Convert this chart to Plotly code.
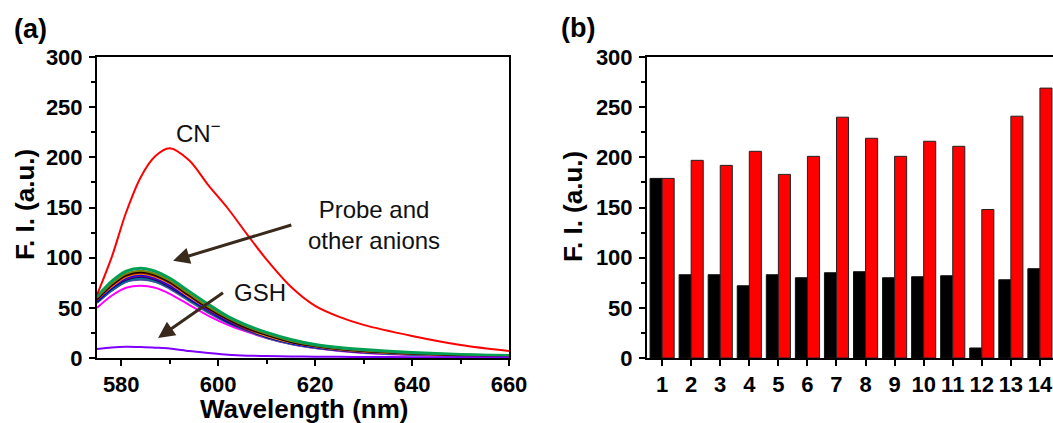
import plotly.graph_objects as go

# ---------------- data ----------------
wavelength = [575, 578, 581, 584, 587, 590, 594, 598, 602, 606, 610, 615, 620, 625, 630, 640, 650, 660]

cn_curve = [63, 100, 145, 180, 201, 209, 197, 172, 149, 123, 98, 71, 52, 41, 33, 22, 13, 7]
gsh_curve = [9, 10.5, 11.3, 11, 10.3, 9.5, 7, 5, 3.2, 2.3, 2, 1.6, 1.3, 1.2, 1, 0.8, 0.6, 0.5]

other_names = ["magenta", "slate", "royal", "darkcyan", "navy", "purple", "blue",
               "orange", "wine", "black", "olive", "green2", "green1"]
other_colors = ["#FF00FF", "#555599", "#3050A0", "#008080", "#000080", "#800080", "#0000FF",
                "#FF8000", "#800000", "#000000", "#808000", "#009966", "#00A050"]
other_curves = [
    [50, 62, 70, 72, 70, 64, 53, 42, 33, 26, 20, 14, 10, 7, 5, 3, 2, 1.5],
    [55, 67, 76, 78, 76, 69, 57, 45, 35, 27, 20, 14, 10, 7.5, 5.5, 3.5, 2.5, 1.5],
    [55, 67, 76, 79, 76, 70, 58, 46, 35, 27, 21, 14.5, 10.5, 7.5, 5.5, 3.5, 2.5, 1.5],
    [56, 68, 77, 80, 77, 71, 58, 46, 36, 28, 21, 14.5, 10.5, 8, 6, 3.5, 2.5, 1.5],
    [56, 69, 78, 81, 78, 71, 59, 47, 36, 28, 21, 15, 11, 8, 6, 4, 2.5, 2],
    [57, 70, 79, 82, 79, 72, 60, 47, 37, 28, 22, 15, 11, 8, 6, 4, 2.5, 2],
    [57, 70, 80, 83, 80, 73, 60, 48, 37, 29, 22, 15, 11, 8.5, 6.5, 4, 3, 2],
    [58, 71, 81, 84, 81, 74, 61, 49, 38, 29, 22, 15.5, 11.5, 8.5, 6.5, 4, 3, 2],
    [58, 72, 82, 85, 82, 75, 62, 49, 38, 29, 23, 16, 12, 9, 7, 4.5, 3, 2],
    [59, 73, 83, 86, 83, 76, 63, 50, 39, 30, 23, 16, 12, 9, 7, 4.5, 3, 2],
    [60, 74, 84, 87, 84, 77, 64, 51, 40, 31, 24, 17, 12.5, 9.5, 7.5, 5, 3.5, 2.5],
    [61, 76, 86, 89, 86, 79, 66, 53, 41, 32, 25, 18, 13, 10, 8, 5, 3.5, 2.5],
    [62, 77, 87, 90, 87, 80, 67, 54, 42, 33, 26, 19, 14, 11, 9, 6, 4, 3],
]

bar_categories = list(range(1, 15))
bar_black = [179, 83, 83, 72, 83, 80, 85, 86, 80, 81, 82, 10, 78, 89]
bar_red = [179, 197, 192, 206, 183, 201, 240, 219, 201, 216, 211, 148, 241, 269]

# ---------------- layout helpers ----------------
W, H = 1053, 423
def px(x):
    return x / W
def py(y):
    return 1 - y / H

FONT = "Arial, Liberation Sans, sans-serif"
y_dom = [py(358), py(57)]

fig = go.Figure()

for name, color, vals in zip(other_names, other_colors, other_curves):
    fig.add_trace(go.Scatter(x=wavelength, y=vals, mode="lines", name=name,
                             line=dict(color=color, width=2, shape="spline", smoothing=0.8),
                             xaxis="x", yaxis="y"))
fig.add_trace(go.Scatter(x=wavelength, y=gsh_curve, mode="lines", name="GSH",
                         line=dict(color="#8000FF", width=2, shape="spline", smoothing=0.8),
                         xaxis="x", yaxis="y"))
fig.add_trace(go.Scatter(x=wavelength, y=cn_curve, mode="lines", name="CN",
                         line=dict(color="#FF0000", width=2, shape="spline", smoothing=0.9),
                         xaxis="x", yaxis="y"))

fig.add_trace(go.Bar(x=bar_categories, y=bar_black, marker=dict(color="#000000", line=dict(color="#111111", width=1)),
                     xaxis="x2", yaxis="y2", name="black"))
fig.add_trace(go.Bar(x=bar_categories, y=bar_red, marker=dict(color="#FF0000", line=dict(color="#222222", width=1)),
                     xaxis="x2", yaxis="y2", name="red"))

tickfont = dict(family=FONT, size=22, color="black", weight="bold")
common_axis = dict(showgrid=False, zeroline=False, showline=True, linecolor="black", linewidth=2,
                   ticks="outside", ticklen=6, tickwidth=2, tickcolor="black", tickfont=tickfont,
                   automargin=False)

fig.update_layout(
    width=W, height=H, margin=dict(l=0, r=0, t=0, b=0, autoexpand=False),
    paper_bgcolor="white", plot_bgcolor="white", showlegend=False,
    barmode="group", bargap=0.17, bargroupgap=0,
    xaxis=dict(domain=[px(97), px(509)], range=[575, 660], tick0=580, dtick=20,
               mirror=True, anchor="y", ticklabelstandoff=0,
               minor=dict(ticks="outside", dtick=10, ticklen=4, tickwidth=2, tickcolor="black"),
               **common_axis),
    yaxis=dict(domain=y_dom, range=[0, 300], dtick=50, mirror=True, anchor="x",
               ticklabelstandoff=2,
               minor=dict(ticks="outside", dtick=25, ticklen=4, tickwidth=2, tickcolor="black"),
               **common_axis),
    xaxis2=dict(domain=[px(647), 1.0], range=[0.48, 14.45], tickmode="array",
                tickvals=bar_categories, ticktext=[str(c) for c in bar_categories],
                mirror=True, anchor="y2", ticklabelstandoff=0, **common_axis),
    yaxis2=dict(domain=y_dom, range=[0, 300], dtick=50, anchor="x2", ticklabelstandoff=2,
                minor=dict(ticks="outside", dtick=25, ticklen=4, tickwidth=2, tickcolor="black"),
                **common_axis),
)

ann_font = dict(family=FONT, size=24, color="#111111")
title_font = dict(family=FONT, size=26, color="black", weight="bold")
label_font = dict(family=FONT, size=27, color="black", weight="bold")

def centered(text, x, y, font, **kw):
    return dict(text=text, x=px(x), y=py(y), xref="paper", yref="paper", showarrow=False,
                xanchor="center", yanchor="middle", font=font, **kw)

annotations = [
    centered("(a)", 30, 29, label_font),
    centered("(b)", 578, 28, label_font),
    centered("Wavelength (nm)", 304, 409, title_font),
    centered("F. I. (a.u.)", 25, 205, title_font, textangle=-90),
    centered("F. I. (a.u.)", 573, 207, title_font, textangle=-90),
    dict(text="CN<sup>−</sup>", x=595.8, y=225, xref="x", yref="y", showarrow=False,
         xanchor="center", yanchor="middle", font=ann_font),
    dict(text="Probe and<br>other anions", x=632.2, y=133, xref="x", yref="y",
         showarrow=False, align="center", xanchor="center", yanchor="middle", font=ann_font),
    dict(text="GSH", x=608.7, y=65, xref="x", yref="y", showarrow=False,
         xanchor="center", yanchor="middle", font=ann_font),
    dict(text="", x=590.7, y=97, xref="x", yref="y", ax=615.4, ay=133, axref="x", ayref="y",
         showarrow=True, arrowhead=2, arrowsize=1.1, arrowwidth=3, arrowcolor="#3a2a1c"),
    dict(text="", x=587.6, y=20, xref="x", yref="y", ax=601.3, ay=66, axref="x", ayref="y",
         showarrow=True, arrowhead=2, arrowsize=1.1, arrowwidth=3, arrowcolor="#3a2a1c"),
]
fig.update_layout(annotations=annotations)

fig.write_html("out.html")
